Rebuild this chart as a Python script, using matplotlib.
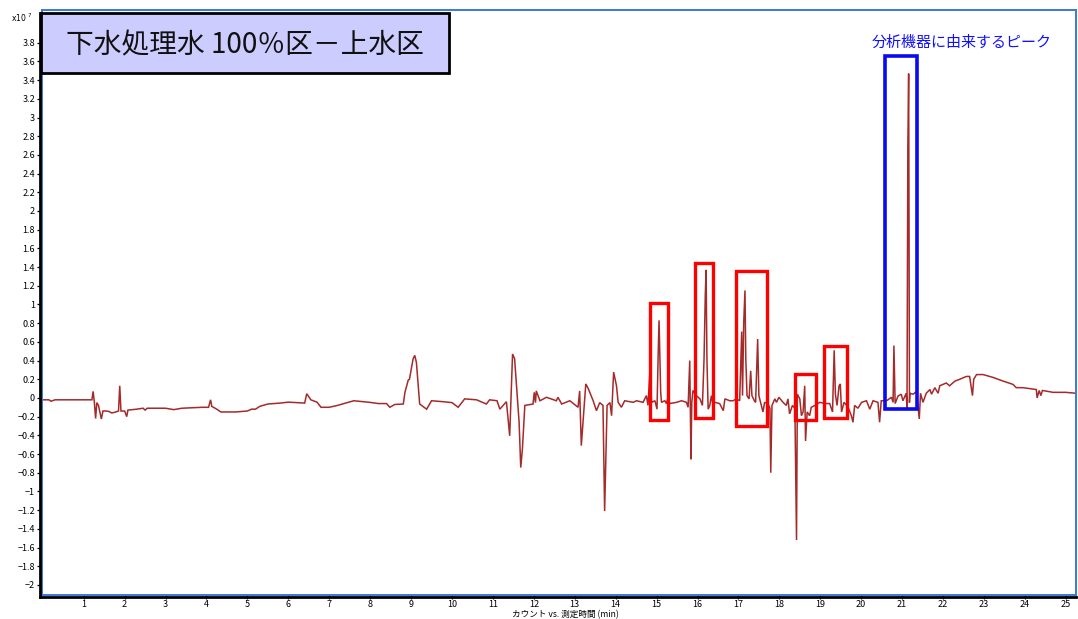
import matplotlib
matplotlib.use("Agg")
import matplotlib.pyplot as plt
from matplotlib.patches import Rectangle
from matplotlib.lines import Line2D
from matplotlib.ticker import FuncFormatter

plt.rcParams['font.family'] = ['Noto Sans CJK JP', 'DejaVu Sans']

# ---- data: retention time (min) and counts (x10^7) ----
time_min = [0.0, 0.15, 0.2, 0.3, 1.2, 1.23, 1.26, 1.29, 1.32, 1.36, 1.43, 1.47, 1.55, 1.62, 1.68, 1.75, 1.85,
            1.88, 1.91, 2.0, 2.05, 2.08, 2.3, 2.45, 2.5, 2.55, 3.0, 3.2, 3.4, 3.9, 4.05, 4.1, 4.13, 4.25, 4.35,
            4.7, 5.0, 5.1, 5.2, 5.3, 5.5, 5.8, 6.0, 6.2, 6.4, 6.45, 6.55, 6.7, 6.8, 7.0, 7.2, 7.6, 7.99, 8.2,
            8.4, 8.48, 8.6, 8.81, 8.85, 8.93, 8.96, 9.05, 9.09, 9.13, 9.21, 9.38, 9.5, 9.78, 10.0, 10.15, 10.31,
            10.6, 10.84, 10.92, 11.1, 11.17, 11.33, 11.41, 11.48, 11.53, 11.64, 11.68, 11.72, 11.78, 11.98,
            12.01, 12.04, 12.06, 12.15, 12.31, 12.55, 12.59, 12.68, 12.88, 13.08, 13.12, 13.16, 13.27, 13.33,
            13.45, 13.53, 13.61, 13.69, 13.73, 13.79, 13.86, 13.9, 13.95, 14.02, 14.06, 14.14, 14.22, 14.43,
            14.51, 14.67, 14.75, 14.79, 14.83, 14.88, 14.96, 15.01, 15.04, 15.06, 15.1, 15.12, 15.2, 15.24,
            15.28, 15.32, 15.49, 15.61, 15.73, 15.77, 15.81, 15.84, 15.86, 15.89, 15.97, 16.06, 16.12, 16.16,
            16.19, 16.21, 16.23, 16.26, 16.3, 16.34, 16.38, 16.42, 16.54, 16.63, 16.67, 16.79, 16.87, 16.95,
            17.03, 17.06, 17.08, 17.1, 17.13, 17.16, 17.18, 17.21, 17.26, 17.3, 17.33, 17.39, 17.42, 17.47,
            17.5, 17.56, 17.6, 17.64, 17.72, 17.77, 17.79, 17.82, 17.89, 17.93, 17.99, 18.09, 18.17, 18.21,
            18.25, 18.32, 18.38, 18.42, 18.44, 18.5, 18.54, 18.58, 18.62, 18.64, 18.68, 18.74, 18.78, 18.87,
            18.99, 19.11, 19.23, 19.3, 19.34, 19.37, 19.41, 19.46, 19.49, 19.52, 19.58, 19.68, 19.76, 19.8,
            19.84, 19.92, 20.01, 20.13, 20.21, 20.29, 20.41, 20.45, 20.49, 20.62, 20.74, 20.78, 20.8, 20.83,
            20.9, 20.98, 21.02, 21.1, 21.12, 21.14, 21.16, 21.18, 21.19, 21.27, 21.35, 21.42, 21.45, 21.51,
            21.59, 21.68, 21.72, 21.8, 21.88, 21.92, 22.08, 22.16, 22.29, 22.41, 22.57, 22.65, 22.72, 22.75,
            22.82, 22.98, 23.22, 23.47, 23.71, 23.79, 23.95, 24.28, 24.3, 24.35, 24.39, 24.43, 24.69, 25.0, 25.25]
counts_1e7 = [-0.02, -0.02, -0.035, -0.02, -0.02, 0.07, -0.05, -0.22, -0.05, -0.08, -0.225, -0.14, -0.14, -0.145,
              -0.16, -0.155, -0.14, 0.13, -0.14, -0.14, -0.2, -0.13, -0.12, -0.11, -0.13, -0.11, -0.11, -0.125,
              -0.11, -0.1, -0.1, -0.02, -0.09, -0.12, -0.15, -0.15, -0.14, -0.12, -0.12, -0.09, -0.065, -0.055,
              -0.045, -0.05, -0.055, 0.045, -0.02, -0.045, -0.1, -0.1, -0.08, -0.03, -0.047, -0.06, -0.06, -0.1,
              -0.07, -0.065, 0.06, 0.19, 0.2, 0.42, 0.455, 0.38, -0.065, -0.12, -0.03, -0.04, -0.05, -0.1, -0.01,
              -0.02, -0.065, -0.02, -0.03, -0.12, -0.04, -0.405, 0.47, 0.42, -0.26, -0.745, -0.55, -0.08, -0.065,
              0.06, -0.05, 0.075, -0.03, 0.007, -0.03, 0.007, -0.065, -0.03, -0.1, 0.075, -0.51, 0.15, 0.1,
              -0.03, -0.136, -0.05, -0.08, -1.21, -0.08, -0.05, -0.19, 0.276, 0.13, -0.047, -0.1, -0.03, -0.047,
              -0.03, -0.047, 0.025, -0.08, 0.24, -0.047, -0.03, -0.12, 0.49, 0.83, 0.06, -0.047, -0.03, -0.06,
              0.007, -0.06, -0.047, -0.03, -0.047, -0.1, 0.4, -0.656, -0.047, 0.08, 0.025, -0.01, -0.08, 0.42,
              1.1, 1.37, 0.42, -0.12, -0.08, 0.025, -0.08, -0.047, -0.06, -0.136, -0.01, -0.03, -0.03, -0.01,
              -0.03, 0.42, 0.71, 0.025, 0.81, 1.15, 0.42, 0.025, -0.01, 0.29, 0.025, -0.03, -0.047, 0.63,
              0.025, -0.08, -0.15, -0.047, -0.06, -0.11, -0.8, -0.08, -0.01, -0.047, 0.007, -0.047, -0.08, -0.01,
              -0.17, -0.08, -0.11, -1.52, 0.04, -0.01, -0.19, -0.15, 0.13, -0.46, -0.15, -0.19, -0.1, -0.08,
              -0.047, -0.06, -0.06, -0.15, 0.51, 0.04, -0.08, 0.13, 0.15, -0.15, -0.047, -0.1, -0.19, -0.26,
              -0.08, -0.11, -0.047, -0.03, -0.12, -0.03, -0.047, -0.26, -0.03, -0.03, 0.007, -0.047, 0.56, -0.06,
              0.02, 0.04, -0.03, 0.05, -0.12, 2.66, 3.47, -0.05, 0.05, 0.04, 0.07, -0.225, 0.05, -0.047,
              0.05, 0.09, 0.04, 0.11, 0.05, 0.13, 0.16, 0.13, 0.18, 0.2, 0.23, 0.23, 0.025, 0.2,
              0.25, 0.25, 0.22, 0.18, 0.145, 0.11, 0.11, 0.09, 0.0, 0.08, 0.025, 0.08, 0.06, 0.06, 0.05]

# highlighted regions (red) : time start/end, counts low/high
red_t0 = [14.83, 15.93, 16.94, 18.38, 19.09]
red_t1 = [15.27, 16.37, 17.69, 18.89, 19.65]
red_v0 = [-0.24, -0.215, -0.30, -0.24, -0.215]
red_v1 = [1.02, 1.44, 1.355, 0.26, 0.56]
# instrument-derived peak region (blue)
blue_t = [20.58, 21.36]
blue_v = [-0.12, 3.66]

title_text = "下水処理水 100％区－上水区"
note_text = "分析機器に由来するピーク"
xlabel_text = "カウント vs. 測定時間 (min)"
x_ticks = list(range(1, 26))
y_ticks = [round(-2 + 0.2 * i, 1) for i in range(30)]   # -2 ... 3.8

W, H = 1078, 619
fig = plt.figure(figsize=(W / 100, H / 100), dpi=100)
L, R, T, B = 42, 1076, 10, 595
ax = fig.add_axes([L / W, 1 - B / H, (R - L) / W, (B - T) / H])

ax.plot(time_min, counts_1e7, color='#a52a2a', lw=1.1, solid_joinstyle='miter')
ax.set_xlim(-0.02, 25.25)
ax.set_ylim(-2.108, 4.15)

for t0, t1, v0, v1 in zip(red_t0, red_t1, red_v0, red_v1):
    ax.add_patch(Rectangle((t0, v0), t1 - t0, v1 - v0, fill=False, edgecolor='#ff0000', lw=2.4, zorder=5))
ax.add_patch(Rectangle((blue_t[0], blue_v[0]), blue_t[1] - blue_t[0], blue_v[1] - blue_v[0],
                       fill=False, edgecolor='#0a0aee', lw=2.6, zorder=5))
fig.text(962 / W, 1 - 43 / H, note_text, color='#1010ff', fontsize=10.8, ha='center', va='center')

# spines
for s in ax.spines.values():
    s.set_color('#3c78d8')
    s.set_linewidth(1.4)

ax.set_yticks(y_ticks)
ax.set_xticks(x_ticks)
fmt = FuncFormatter(lambda v, p: ('%g' % round(v, 1)).replace('-', '\u2212'))
ax.yaxis.set_major_formatter(fmt)
ax.tick_params(axis='both', direction='out', length=3.5, width=0.9, color='black', labelsize=6.5)
ax.tick_params(axis='x', pad=0.5, length=3)
ax.tick_params(axis='y', pad=1.5)

fig.text(565 / W, 1 - 614.5 / H, xlabel_text, fontsize=6.2, ha='center', va='center')

# black outer L frame
fig.add_artist(Line2D([40 / W, 40 / W], [1 - 597 / H, 1 - 13 / H], color='black', lw=2))
fig.add_artist(Line2D([40 / W, R / W], [1 - 597 / H, 1 - 597 / H], color='black', lw=2))

# title box
fig.add_artist(Rectangle((41 / W, 1 - 73 / H), (449 - 41) / W, (73 - 13) / H, transform=fig.transFigure,
                         facecolor='#ccccff', edgecolor='black', lw=2, zorder=10))
fig.text(245 / W, 1 - 45 / H, title_text, fontsize=20, ha='center', va='center', color='#111111', zorder=11)

fig.text(11 / W, 1 - 18 / H, 'x10$^{\\ 7}$', fontsize=5.5, ha='left', va='center', family='DejaVu Sans')

fig.savefig('out.png', dpi=100)
